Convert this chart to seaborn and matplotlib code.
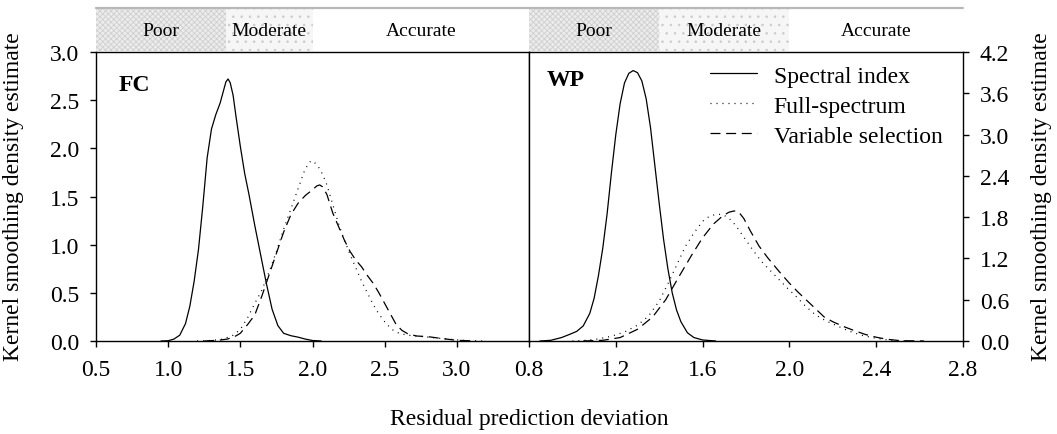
import numpy as np
import pandas as pd
import matplotlib
matplotlib.use("Agg")
import matplotlib.pyplot as plt
from matplotlib.lines import Line2D
import seaborn as sns

# ---------------- data ----------------
series_names = ["Spectral index", "Full-spectrum", "Variable selection"]

fc_si_x = [0.95, 1.0, 1.04, 1.08, 1.12, 1.15, 1.18, 1.21, 1.24, 1.27, 1.30, 1.33, 1.36, 1.38,
           1.40, 1.415, 1.43, 1.45, 1.47, 1.50, 1.53, 1.56, 1.60, 1.64, 1.68, 1.72, 1.76,
           1.80, 1.85, 1.90, 1.95, 2.0, 2.06]
fc_si_y = [0.0, 0.003, 0.02, 0.06, 0.18, 0.36, 0.62, 0.95, 1.40, 1.90, 2.20, 2.35, 2.47, 2.58,
           2.69, 2.72, 2.68, 2.55, 2.33, 2.02, 1.74, 1.52, 1.20, 0.90, 0.60, 0.33, 0.16,
           0.08, 0.055, 0.04, 0.02, 0.005, 0.0]

fc_fs_x = [1.2, 1.3, 1.38, 1.45, 1.50, 1.55, 1.60, 1.65, 1.70, 1.75, 1.80, 1.85, 1.90, 1.94,
           1.97, 1.99, 2.01, 2.04, 2.07, 2.10, 2.14, 2.18, 2.22, 2.26, 2.30, 2.34, 2.38, 2.42,
           2.46, 2.50, 2.55, 2.60, 2.66, 2.72, 2.80, 2.90, 3.0, 3.1, 3.2]
fc_fs_y = [0.0, 0.005, 0.02, 0.06, 0.12, 0.24, 0.39, 0.53, 0.72, 0.93, 1.16, 1.37, 1.58, 1.75,
           1.84, 1.87, 1.86, 1.81, 1.73, 1.62, 1.42, 1.22, 1.05, 0.90, 0.76, 0.62, 0.50, 0.38,
           0.28, 0.20, 0.12, 0.08, 0.06, 0.052, 0.04, 0.025, 0.012, 0.003, 0.0]

fc_vs_x = [1.25, 1.35, 1.41, 1.46, 1.50, 1.55, 1.60, 1.65, 1.70, 1.75, 1.80, 1.85, 1.90, 1.95,
           2.00, 2.03, 2.05, 2.07, 2.10, 2.14, 2.18, 2.22, 2.26, 2.30, 2.34, 2.38, 2.42, 2.46,
           2.50, 2.54, 2.58, 2.62, 2.66, 2.72, 2.80, 2.90, 3.0, 3.13]
fc_vs_y = [0.0, 0.008, 0.02, 0.045, 0.08, 0.17, 0.27, 0.47, 0.69, 0.91, 1.13, 1.31, 1.43, 1.51,
           1.57, 1.61, 1.62, 1.60, 1.52, 1.33, 1.19, 1.05, 0.93, 0.84, 0.77, 0.68, 0.60, 0.50,
           0.39, 0.28, 0.17, 0.11, 0.075, 0.052, 0.045, 0.025, 0.007, 0.0]

wp_si_x = [0.85, 0.90, 0.95, 0.99, 1.02, 1.05, 1.08, 1.10, 1.12, 1.14, 1.16, 1.18, 1.20, 1.22,
           1.24, 1.26, 1.28, 1.30, 1.32, 1.34, 1.36, 1.38, 1.40, 1.42, 1.44, 1.46, 1.48, 1.50,
           1.53, 1.56, 1.60, 1.66]
wp_si_y = [0.0, 0.01, 0.05, 0.10, 0.14, 0.22, 0.40, 0.62, 0.95, 1.35, 1.85, 2.45, 3.0, 3.45,
           3.75, 3.89, 3.93, 3.90, 3.78, 3.52, 3.10, 2.55, 2.0, 1.48, 1.05, 0.70, 0.45, 0.28,
           0.12, 0.05, 0.015, 0.0]

wp_fs_x = [1.0, 1.06, 1.12, 1.18, 1.24, 1.30, 1.35, 1.40, 1.44, 1.48, 1.52, 1.56, 1.60, 1.63,
           1.66, 1.69, 1.72, 1.75, 1.79, 1.83, 1.87, 1.91, 1.95, 1.99, 2.03, 2.07, 2.12, 2.17,
           2.22, 2.27, 2.33, 2.39, 2.46, 2.54]
wp_fs_y = [0.0, 0.01, 0.03, 0.07, 0.13, 0.23, 0.36, 0.58, 0.83, 1.10, 1.37, 1.57, 1.74, 1.81,
           1.84, 1.84, 1.79, 1.69, 1.51, 1.33, 1.16, 1.03, 0.90, 0.77, 0.65, 0.52, 0.38, 0.29,
           0.22, 0.15, 0.085, 0.045, 0.012, 0.0]

wp_vs_x = [1.05, 1.14, 1.22, 1.30, 1.37, 1.43, 1.49, 1.55, 1.60, 1.65, 1.69, 1.72, 1.745,
           1.765, 1.79, 1.82, 1.86, 1.90, 1.95, 2.00, 2.04, 2.08, 2.12, 2.16, 2.20, 2.25, 2.30,
           2.35, 2.40, 2.45, 2.51, 2.62]
wp_vs_y = [0.0, 0.01, 0.05, 0.17, 0.35, 0.60, 0.93, 1.25, 1.50, 1.70, 1.81, 1.87, 1.89,
           1.88, 1.78, 1.60, 1.38, 1.21, 1.02, 0.84, 0.71, 0.59, 0.47, 0.35, 0.28, 0.21, 0.15,
           0.095, 0.055, 0.025, 0.005, 0.0]

fc_xticks = [0.5, 1.0, 1.5, 2.0, 2.5, 3.0]
fc_yticks = [0.0, 0.5, 1.0, 1.5, 2.0, 2.5, 3.0]
wp_xticks = [0.8, 1.2, 1.6, 2.0, 2.4, 2.8]
wp_yticks = [0.0, 0.6, 1.2, 1.8, 2.4, 3.0, 3.6, 4.2]

band_labels = ["Poor", "Moderate", "Accurate"]
fc_band_edges = [0.5, 1.4, 2.0, 3.5]
wp_band_edges = [0.8, 1.4, 2.0, 2.8]

# ---------------- style ----------------
sns.set_style("ticks")
plt.rcParams["font.family"] = ["Liberation Serif", "DejaVu Serif"]
plt.rcParams["text.color"] = "black"
plt.rcParams["axes.labelcolor"] = "black"
plt.rcParams["xtick.color"] = "black"
plt.rcParams["ytick.color"] = "black"
plt.rcParams["hatch.linewidth"] = 0.6
FS = 17

W, H = 1057, 435
fig = plt.figure(figsize=(W / 100, H / 100), dpi=100)

def rect(l, t, r, b):
    return [l / W, (H - b) / H, (r - l) / W, (b - t) / H]

ax1 = fig.add_axes(rect(96, 53, 529, 342))
ax2 = fig.add_axes(rect(529, 53, 963, 342))

dash_map = {"Spectral index": "", "Full-spectrum": (0.8, 4.0), "Variable selection": (8, 4.5)}

def make_df(xs, ys):
    frames = []
    for name, x, y in zip(series_names, xs, ys):
        frames.append(pd.DataFrame({"x": x, "y": y, "series": name}))
    return pd.concat(frames, ignore_index=True)

df_fc = make_df([fc_si_x, fc_fs_x, fc_vs_x], [fc_si_y, fc_fs_y, fc_vs_y])
df_wp = make_df([wp_si_x, wp_fs_x, wp_vs_x], [wp_si_y, wp_fs_y, wp_vs_y])

for ax, df in [(ax1, df_fc), (ax2, df_wp)]:
    sns.lineplot(data=df, x="x", y="y", style="series", dashes=dash_map,
                 color="black", linewidth=0.9, ax=ax, legend=False,
                 estimator=None, sort=False)
    ax.set_xlabel("")
    ax.set_ylabel("")
    for s in ax.spines.values():
        s.set_visible(True)
        s.set_linewidth(1.0)
        s.set_color("black")

ax1.set_xlim(0.5, 3.5)
ax1.set_ylim(0, 3.0)
ax1.set_xticks(fc_xticks)
ax1.set_xticklabels([f"{v:.1f}" for v in fc_xticks])
ax1.set_yticks(fc_yticks)
ax1.set_yticklabels([f"{v:.1f}" for v in fc_yticks])

ax2.set_xlim(0.8, 2.8)
ax2.set_ylim(0, 4.2)
ax2.set_xticks(wp_xticks)
ax2.set_xticklabels([f"{v:.1f}" for v in wp_xticks])
ax2.yaxis.tick_right()
ax2.set_yticks(wp_yticks)
ax2.set_yticklabels([f"{v:.1f}" for v in wp_yticks])

for ax in (ax1, ax2):
    ax.tick_params(axis="both", direction="out", length=4, width=1.0,
                   labelsize=FS, color="black", labelcolor="black")
    ax.tick_params(axis="y", pad=8)
    ax.tick_params(axis="x", pad=9)

ax1.text(0.053, 0.886, "FC", transform=ax1.transAxes, fontsize=FS,
         fontweight="bold", ha="left", va="center")
ax2.text(0.041, 0.905, "WP", transform=ax2.transAxes, fontsize=FS,
         fontweight="bold", ha="left", va="center")

handles = [Line2D([], [], color="black", lw=0.9, linestyle="-"),
           Line2D([], [], color="black", lw=0.9, dashes=dash_map["Full-spectrum"]),
           Line2D([], [], color="black", lw=0.9, dashes=dash_map["Variable selection"])]
ax2.legend(handles, series_names, loc="upper left", bbox_to_anchor=(0.417, 0.955),
           frameon=False, fontsize=FS, handlelength=2.0, handletextpad=0.7,
           labelspacing=0.36, borderpad=0, borderaxespad=0)

# ---------------- accuracy bands above the panels ----------------
band_styles = [dict(facecolor="#ececec", edgecolor="#cfcfcf", hatch="xxxxxx"),
               dict(facecolor="#f6f6f6", edgecolor="#cccccc", hatch=".."),
               dict(facecolor="white", edgecolor="white", hatch=None)]

for (l, r), edges in [((96, 529), fc_band_edges), ((529, 963), wp_band_edges)]:
    bax = fig.add_axes(rect(l, 10, r, 52))
    bax.set_xlim(edges[0], edges[-1])
    bax.set_ylim(0, 1)
    bax.axis("off")
    for i, lab in enumerate(band_labels):
        st = band_styles[i]
        bax.axvspan(edges[i], edges[i + 1], ymin=0, ymax=1, facecolor=st["facecolor"],
                    edgecolor=st["edgecolor"], hatch=st["hatch"], linewidth=0)
        bax.text((edges[i] + edges[i + 1]) / 2, 0.5, lab, fontsize=14,
                 ha="center", va="center")

fig.add_artist(Line2D([96 / W, 963 / W], [(H - 9) / H] * 2, color="#b8b8b8", lw=1.6))

# ---------------- axis titles ----------------
fig.text(529 / W, (H - 420) / H, "Residual prediction deviation", fontsize=FS,
         ha="center", va="center")
fig.text(14 / W, (H - 197) / H, "Kernel smoothing density estimate", fontsize=FS,
         ha="center", va="center", rotation=90)
fig.text(1042 / W, (H - 197) / H, "Kernel smoothing density estimate", fontsize=FS,
         ha="center", va="center", rotation=90)

fig.savefig("out.png", dpi=100)
